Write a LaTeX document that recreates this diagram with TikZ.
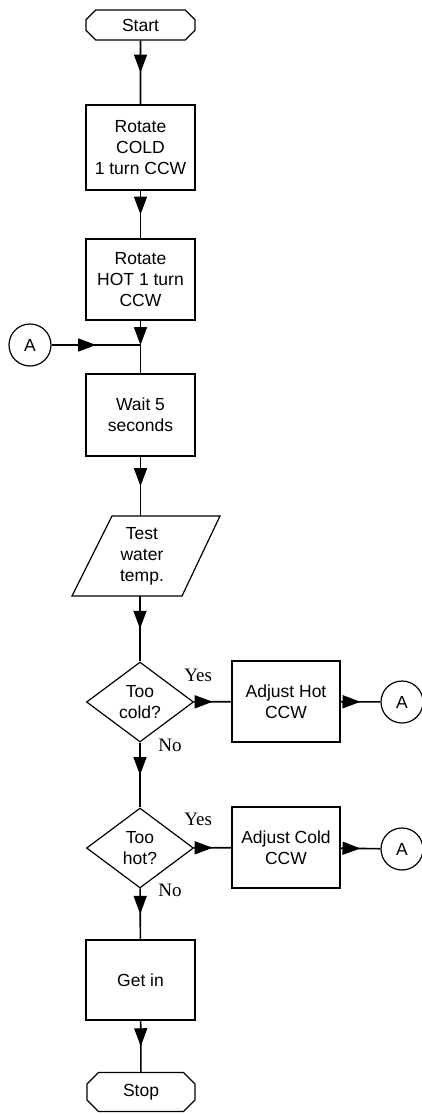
\documentclass[tikz,border=0pt]{standalone}
\usepackage{fontspec}
\setmainfont{Liberation Sans}
\newfontfamily\yesnofont{Liberation Serif}
\usetikzlibrary{shapes.geometric,shapes.misc,arrows.meta,decorations.markings}

\begin{document}
\begin{tikzpicture}[
        x=1pt, y=-1pt,
        every node/.style={font=\fontsize{17.5}{21}\selectfont, align=center},
        procnode/.style={rectangle, draw=black, line width=1.2pt, minimum width=109pt, minimum height=81pt, inner sep=0pt},
        termnode/.style={chamfered rectangle, chamfered rectangle xsep=8pt, draw=black, line width=1.2pt, minimum width=109pt, inner sep=0pt},
        decnode/.style={diamond, draw=black, line width=1.2pt, minimum width=107pt, minimum height=80pt, inner sep=0pt},
        connnode/.style={circle, draw=black, line width=1.2pt, minimum size=42pt, inner sep=0pt},
        flow/.style={line width=1.6pt},
        midarrow/.style={decoration={markings, mark=at position 0.5 with {\arrow{Triangle[length=18pt,width=13pt]}}}, postaction={decorate}},
        yesno/.style={font=\fontsize{19}{21}\selectfont\yesnofont},
    ]
        \useasboundingbox (0,0) rectangle (422,1114);

        %Nodes
        \node[termnode, minimum height=30pt] (start) at (140.5,25) {Start};
        \node[procnode, minimum height=85pt] (rotcold) at (140.5,147.5) {Rotate\\COLD\\1 turn CCW};
        \node[procnode] (rothot) at (140.5,279.5) {Rotate\\HOT 1 turn\\CCW};
        \coordinate (join) at (140.5,345);
        \node[connnode] (ain) at (30,345) {A};
        \node[procnode, minimum height=82pt] (wait) at (140.5,415) {Wait 5\\seconds};
        \node[minimum width=60pt, minimum height=80pt, inner sep=0pt] (test) at (142,556) {Test\\water\\temp.};

        \node[decnode] (cold) at (140,702) {Too\\cold?};
        \node[procnode, minimum width=108pt] (adjhot) at (286,701.5) {Adjust Hot\\CCW};
        \node[connnode] (aout1) at (402,702) {A};

        \node[decnode] (hot) at (140,848) {Too\\hot?};
        \node[procnode, minimum width=108pt] (adjcold) at (286,847.5) {Adjust Cold\\CCW};
        \node[connnode] (aout2) at (402,849) {A};

        \node[procnode, minimum height=80pt] (getin) at (140.5,980) {Get in};
        \node[termnode, minimum width=108pt, minimum height=39pt] (stop) at (141,1092) {Stop};

        % input box
        \draw[line width=1.2pt] ([shift={(-30,-40)}]test.center) -- ([shift={(78,-40)}]test.center)
            -- ([shift={(40,40)}]test.center) -- ([shift={(-70,40)}]test.center) -- cycle;

        %Lines
        \draw[flow, midarrow] (start) -- (rotcold);
        \draw[flow, midarrow] (rotcold) -- (rothot);
        \draw[flow, -{Triangle[length=18pt,width=13pt]}] (rothot) -- (join);
        \draw[flow, midarrow] (ain) -- (join);
        \draw[flow] (join) -- (wait);
        \draw[flow, midarrow] (wait) -- (wait.south |- test.north);
        \draw[flow, midarrow] (cold.north |- test.south) -- (cold);

        \draw[flow, midarrow] (cold) -- (adjhot);
        \draw[flow, midarrow] (adjhot) -- (aout1);
        \draw[flow, midarrow] (cold) -- (hot);

        \draw[flow, midarrow] (hot) -- (adjcold);
        \draw[flow, midarrow] (adjcold) -- (aout2);
        \draw[flow, midarrow] (hot) -- (getin);
        \draw[flow, midarrow] (getin) -- (stop);

        % branch labels
        \node[yesno] at ([shift={(4,-27)}]cold.east) {Yes};
        \node[yesno] at ([shift={(30,3)}]cold.south) {No};
        \node[yesno] at ([shift={(4,-29)}]hot.east) {Yes};
        \node[yesno] at ([shift={(30,2)}]hot.south) {No};
    \end{tikzpicture}
\end{document}
